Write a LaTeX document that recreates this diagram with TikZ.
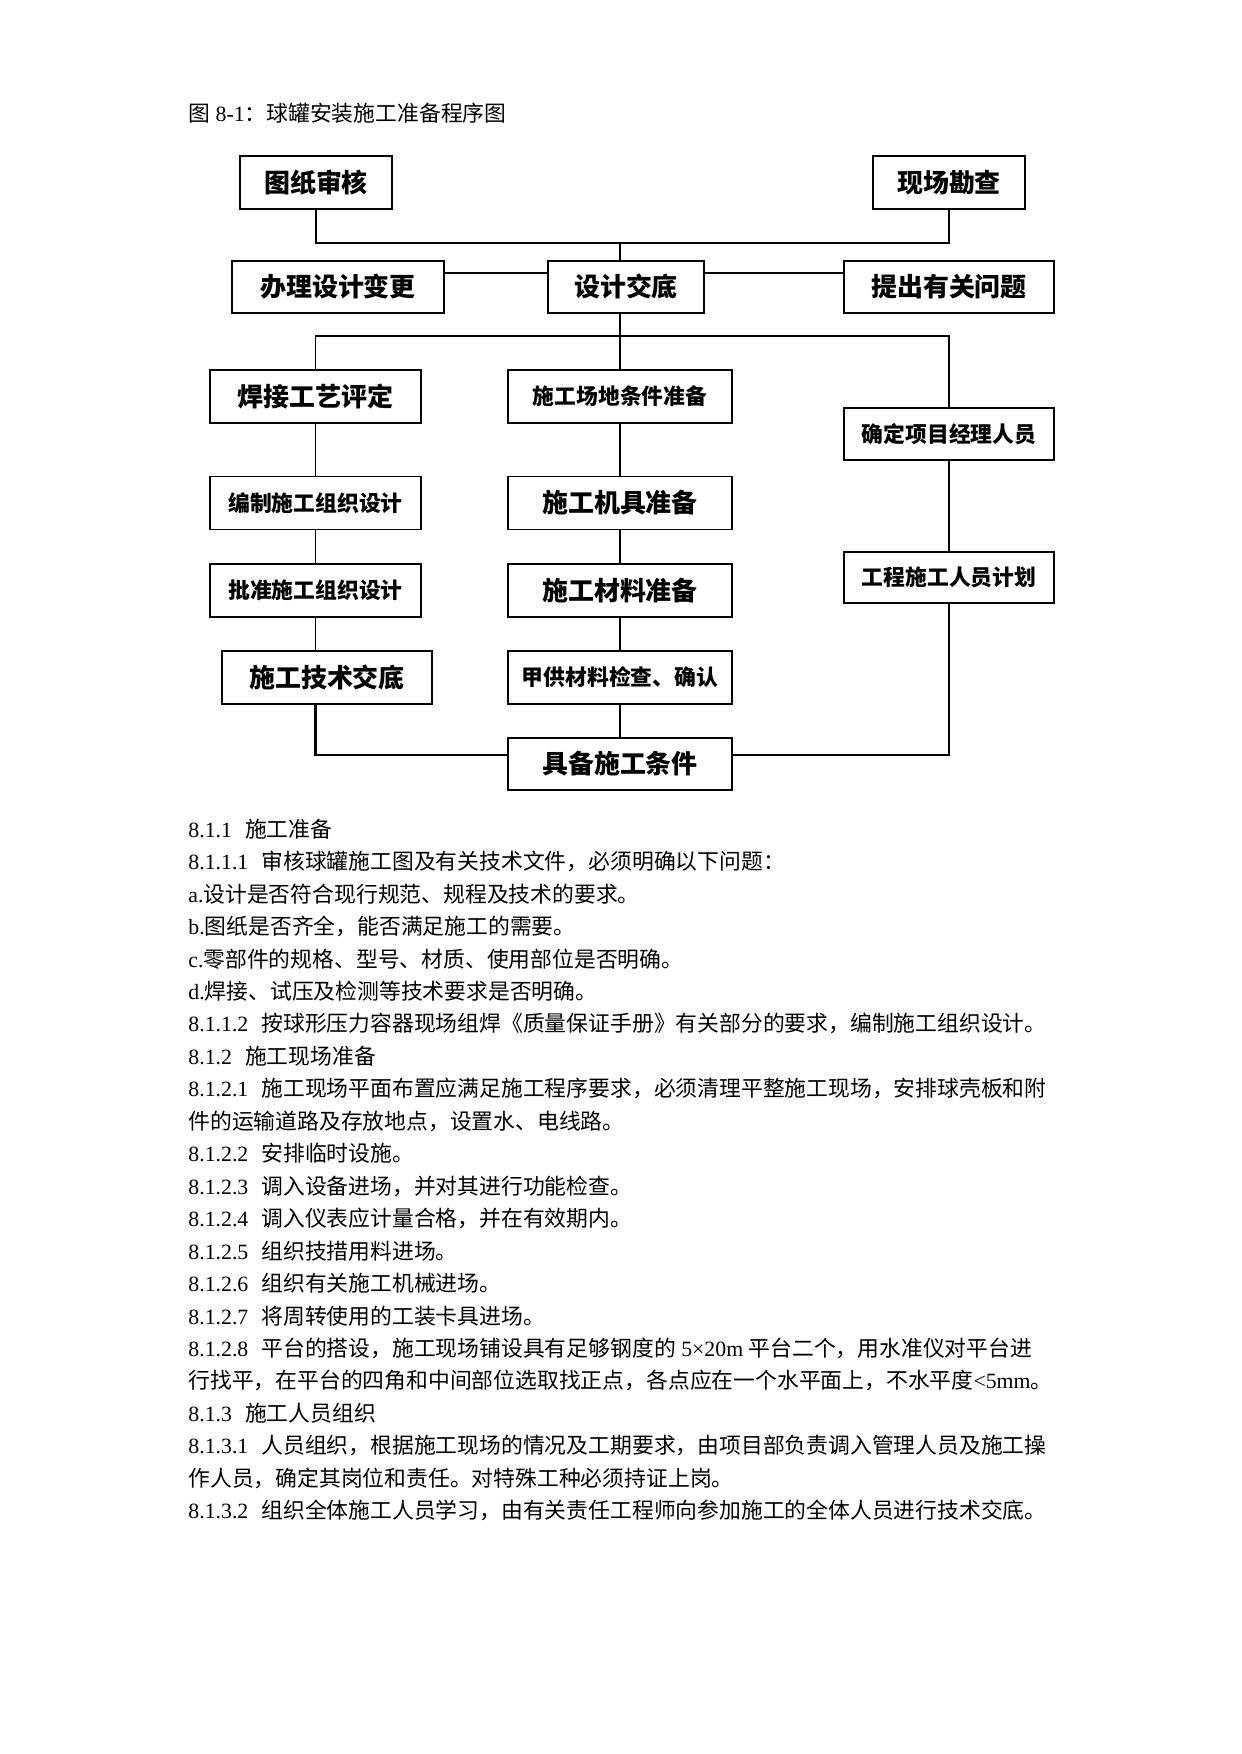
\documentclass[tikz,border=0pt]{standalone}
\usepackage{fontspec}
\setmainfont{Liberation Serif}
\newfontfamily\cjk{Noto Sans CJK SC}
\usepackage{tikz}
\usetikzlibrary{calc}
\newcommand{\px}{0.169218mm}
\newcommand{\zh}[1]{{\cjk #1}}

\begin{document}
\begin{tikzpicture}[x=\px, y=-\px,
    kuang/.style={draw, line width=0.7pt, minimum width=211*\px, minimum height=53*\px,
        inner sep=0pt, font=\cjk\bfseries\fontsize{12.5}{12.5}\selectfont},
    xiaozi/.style={font=\cjk\bfseries\fontsize{10.5}{10.5}\selectfont},
    xian/.style={line width=0.8pt},
    cuxian/.style={line width=1.4pt},
    hang/.style={anchor=west, inner sep=0pt, font=\fontsize{10.5}{10.5}\selectfont}]
    \useasboundingbox (0,0) rectangle (1241,1754);

    % 图题
    \node[hang] (biaoti) at (188,113) {\zh{图} 8-1\zh{：球罐安装施工准备程序图}};

    % 第一层
    \node[kuang, minimum width=152*\px] (shenhe) at (316,182.5) {图纸审核};
    \node[kuang, minimum width=152*\px] (kancha) at (949,182.5) {现场勘查};

    % 第二层
    \node[kuang, minimum width=212*\px, minimum height=52*\px] (biangeng) at (338,287) {办理设计变更};
    \node[kuang, minimum width=156*\px, minimum height=52*\px] (jiaodi) at (626,287) {设计交底};
    \node[kuang, minimum width=210*\px, minimum height=52*\px] (wenti) at (949,287) {提出有关问题};

    % 左列
    \node[kuang] (hanjie) at (315.5,396.5) {焊接工艺评定};
    \node[kuang, xiaozi] (bianzhi) at (315.5,503) {编制施工组织设计};
    \node[kuang, xiaozi] (pizhun) at (315.5,590.5) {批准施工组织设计};
    \node[kuang, minimum width=210*\px] (jishu) at (327,677.5) {施工技术交底};

    % 中列
    \node[kuang, xiaozi, minimum width=224*\px] (changdi) at (620,396.5) {施工场地条件准备};
    \node[kuang, minimum width=224*\px] (jiju) at (620,503) {施工机具准备};
    \node[kuang, minimum width=224*\px] (cailiao) at (620,590.5) {施工材料准备};
    \node[kuang, xiaozi, minimum width=224*\px] (jiagong) at (620,677.5) {甲供材料检查、确认};
    \node[kuang, minimum width=224*\px, minimum height=52*\px] (juebei) at (620,764) {具备施工条件};

    % 右列
    \node[kuang, xiaozi, minimum width=210*\px, minimum height=52*\px] (jingli) at (949,434) {确定项目经理人员};
    \node[kuang, xiaozi, minimum width=210*\px, minimum height=51*\px] (jihua) at (949,577.5) {工程施工人员计划};

    % 上部连线
    \coordinate (j1) at (620,243);
    \draw[xian] (shenhe.south) |- (j1) -| (kancha.south);
    \draw[xian] (j1) -- (j1 |- jiaodi.north);
    \coordinate (j2) at (620,273);
    \draw[cuxian] (biangeng.east |- j2) -- (jiaodi.west |- j2);
    \draw[cuxian] (jiaodi.east |- j2) -- (wenti.west |- j2);

    % 设计交底分三列
    \coordinate (j3) at (620,336);
    \draw[xian] (j3 |- jiaodi.south) -- (j3);
    \draw[xian] (hanjie.north) |- (j3) -| (jingli.north);
    \draw[xian] (j3) -- (changdi.north);

    % 各列纵向连线
    \draw[xian] (hanjie) -- (bianzhi) -- (pizhun);
    \draw[xian] (pizhun.south) -- (pizhun.south |- jishu.north);
    \draw[xian] (changdi) -- (jiju) -- (cailiao) -- (jiagong) -- (juebei);
    \draw[xian] (jingli) -- (jihua);

    % 汇总到具备施工条件
    \coordinate (j4) at (620,755);
    \draw[cuxian] (pizhun.south |- jishu.south) |- (juebei.west |- j4);
    \draw[cuxian] (juebei.east |- j4) -| (jihua.south);

    % 正文
    \foreach \i/\t in {
        0/{8.1.1\hspace{0.6em}\zh{施工准备}},
        1/{8.1.1.1\hspace{0.6em}\zh{审核球罐施工图及有关技术文件，必须明确以下问题：}},
        2/{a.\zh{设计是否符合现行规范、规程及技术的要求。}},
        3/{b.\zh{图纸是否齐全，能否满足施工的需要。}},
        4/{c.\zh{零部件的规格、型号、材质、使用部位是否明确。}},
        5/{d.\zh{焊接、试压及检测等技术要求是否明确。}},
        6/{8.1.1.2\hspace{0.6em}\zh{按球形压力容器现场组焊《质量保证手册》有关部分的要求，编制施工组织设计。}},
        7/{8.1.2\hspace{0.6em}\zh{施工现场准备}},
        8/{8.1.2.1\hspace{0.6em}\zh{施工现场平面布置应满足施工程序要求，必须清理平整施工现场，安排球壳板和附}},
        9/{\zh{件的运输道路及存放地点，设置水、电线路。}},
        10/{8.1.2.2\hspace{0.6em}\zh{安排临时设施。}},
        11/{8.1.2.3\hspace{0.6em}\zh{调入设备进场，并对其进行功能检查。}},
        12/{8.1.2.4\hspace{0.6em}\zh{调入仪表应计量合格，并在有效期内。}},
        13/{8.1.2.5\hspace{0.6em}\zh{组织技措用料进场。}},
        14/{8.1.2.6\hspace{0.6em}\zh{组织有关施工机械进场。}},
        15/{8.1.2.7\hspace{0.6em}\zh{将周转使用的工装卡具进场。}},
        16/{8.1.2.8\hspace{0.6em}\zh{平台的搭设，施工现场铺设具有足够钢度的} 5×20m \zh{平台二个，用水准仪对平台进}},
        17/{\zh{行找平，在平台的四角和中间部位选取找正点，各点应在一个水平面上，不水平度}<5mm\zh{。}},
        18/{8.1.3\hspace{0.6em}\zh{施工人员组织}},
        19/{8.1.3.1\hspace{0.6em}\zh{人员组织，根据施工现场的情况及工期要求，由项目部负责调入管理人员及施工操}},
        20/{\zh{作人员，确定其岗位和责任。对特殊工种必须持证上岗。}},
        21/{8.1.3.2\hspace{0.6em}\zh{组织全体施工人员学习，由有关责任工程师向参加施工的全体人员进行技术交底。}}} {
        \node[hang] (l\i) at (188,829+32.45*\i) {\t};
    }
\end{tikzpicture}
\end{document}
